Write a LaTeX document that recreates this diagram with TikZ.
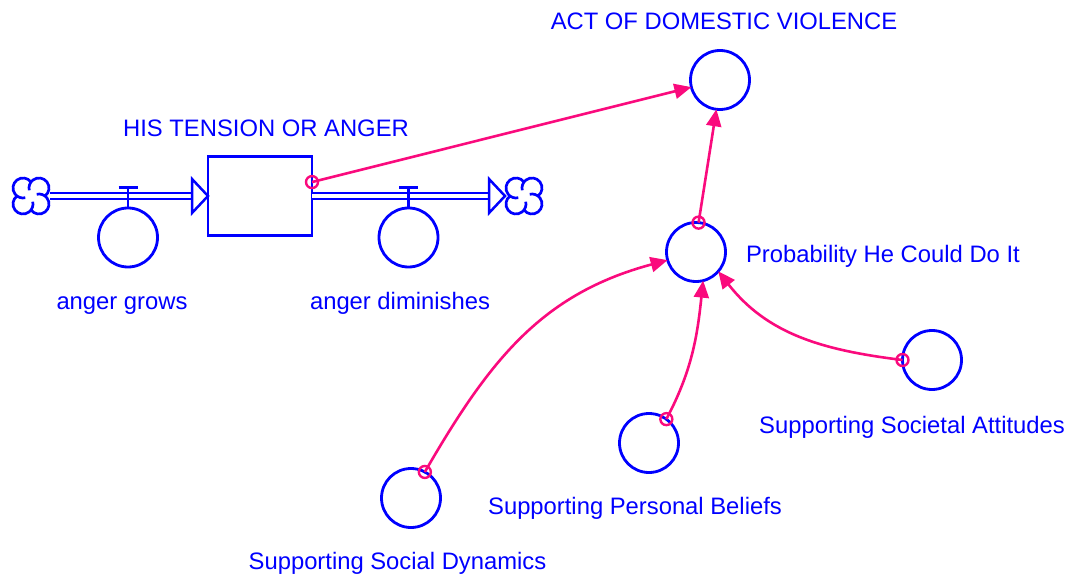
\documentclass[tikz,border=0pt]{standalone}
\usepackage{fontspec}
\setmainfont{Liberation Sans}
\usetikzlibrary{arrows.meta}
\definecolor{vblue}{RGB}{0,0,255}
\definecolor{vpink}{RGB}{250,10,125}
\begin{document}
\begin{tikzpicture}[x=1pt,y=-1pt,
  every node/.style={inner sep=0pt, outer sep=0pt},
  lbl/.style={text=vblue, font=\fontsize{23.8}{28}\selectfont, anchor=base},
  aux/.style={circle, draw=vblue, line width=2.8pt, minimum size=59pt},
  stockbox/.style={rectangle, draw=vblue, line width=2.7pt, minimum width=104pt, minimum height=79pt},
  cloudbox/.style={rectangle, minimum size=38pt},
  pipe/.style={draw=vblue, line width=2.4pt, double=white, double distance=3.4pt},
  flowhead/.style={draw=vblue, fill=white, line width=2.5pt, line join=miter},
  valvebar/.style={draw=vblue, line width=2.7pt},
  link/.style={draw=vpink, line width=2.6pt, -{Triangle[length=17pt,width=15pt]}},
  ring/.style={draw=vpink, line width=2.4pt},
  cloud/.pic={
    \draw[vblue, line width=2.7pt]
      (0,14) arc[start angle=143.13, end angle=-103.13, radius=10]
      (14,0) arc[start angle=53.13, end angle=-193.13, radius=10]
      (0,-14) arc[start angle=-36.87, end angle=-283.13, radius=10]
      (-14,0) arc[start angle=-126.87, end angle=-373.13, radius=10];
  }
]
\useasboundingbox (0,0) rectangle (1070,577);

% stock, clouds and flow valves
\node[stockbox] (stock) at (260,196) {};
\node[cloudbox] (src) at (31,196) {};
\node[cloudbox] (sink) at (524,196) {};
\pic at (src) {cloud};
\pic at (sink) {cloud};

\node[aux] (grows) at (128,237.5) {};
\node[aux] (dimin) at (408.5,237.5) {};

% auxiliaries
\node[aux] (act) at (720,80) {};
\node[aux] (prob) at (696,252) {};
\node[aux] (sa) at (932,360) {};
\node[aux] (pb) at (649,443) {};
\node[aux] (sd) at (411,498) {};

% flow pipes
\draw[pipe] (src.east) -- ([xshift=-16pt]stock.west);
\draw[flowhead] (stock.west) -- ++(-16,-17) -- ++(0,34) -- cycle;
\draw[pipe] (stock.east) -- ([xshift=-16pt]sink.west);
\draw[flowhead] (sink.west) -- ++(-16,-17) -- ++(0,34) -- cycle;

% valves
\draw[valvebar] (grows.north) -- ++(0,-20.5) ++(-9.5,0) -- ++(19,0);
\draw[valvebar] (dimin.north) -- ++(0,-20.5) ++(-9.5,0) -- ++(19,0);

% labels
\node[lbl] (lstock) at (266,137) {HIS TENSION OR ANGER};
\node[lbl] (lgrows) at (122,309) {anger grows};
\node[lbl] (ldimin) at (400,309) {anger diminishes};
\node[lbl] (lact) at (724,30) {ACT OF DOMESTIC VIOLENCE};
\node[lbl, anchor=base west] (lprob) at (746,262) {Probability He Could Do It};
\node[lbl] (lsa) at (912,433) {Supporting Societal Attitudes};
\node[lbl] (lpb) at (635,514) {Supporting Personal Beliefs};
\node[lbl] (lsd) at (397.5,569) {Supporting Social Dynamics};

% causal links
\draw[link] (stock.15) -- (act.194);
\draw[link] (prob.85) -- (act.-97);
\draw[link] (sd.62) .. controls +(60:130pt) and +(195:130pt) .. (prob.196);
\draw[link] (pb.54) .. controls +(62:55pt) and +(264:55pt) .. (prob.-76);
\draw[link] (sa.180) .. controls +(173:80pt) and +(308:80pt) .. (prob.-41);

% link tails
\draw[ring] (stock.15) circle[radius=6pt];
\draw[ring] (prob.85) circle[radius=6pt];
\draw[ring] (sd.62) circle[radius=6pt];
\draw[ring] (pb.54) circle[radius=6pt];
\draw[ring] (sa.180) circle[radius=6pt];
\end{tikzpicture}
\end{document}
